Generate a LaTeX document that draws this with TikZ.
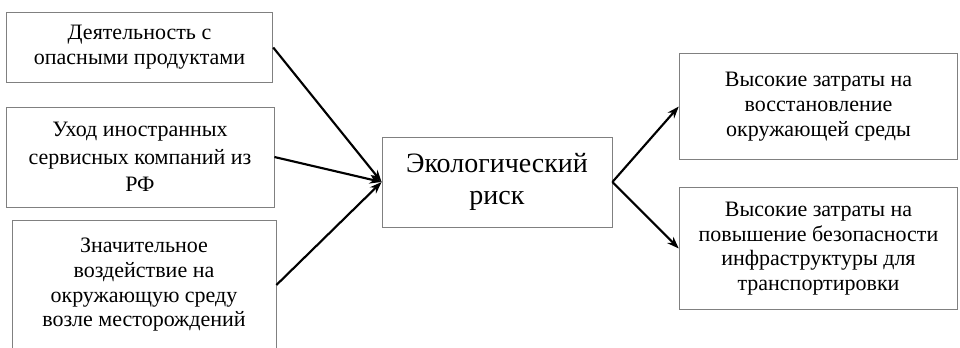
\documentclass[tikz,border=0pt]{standalone}
\usepackage{fontspec}
\setmainfont{Liberation Serif}
\usetikzlibrary{arrows.meta}

\begin{document}
\begin{tikzpicture}
    [>={Stealth[length=9pt,width=6.5pt]},  % one arrow tip for all links
     x=0.75pt, y=-0.75pt,
     box/.style={rectangle, draw=gray, line width=0.6pt, align=center, inner sep=0pt, font=\fontsize{16.5}{18.5}\selectfont},
     link/.style={->, line width=1.6pt},
    ]
\useasboundingbox (0,0) rectangle (960,347);

\node[box, minimum width=200pt, minimum height=53pt] (node_activity) at (139.5,47.5) {Деятельность с\\опасными продуктами};
\node[box, minimum width=201pt, minimum height=75pt, font=\fontsize{16.5}{20.5}\selectfont] (node_leave) at (140,157) {Уход иностранных\\сервисных компаний из\\РФ};
\node[box, minimum width=198pt, minimum height=97.5pt] (node_impact) at (144,285) {Значительное\\воздействие на\\окружающую среду\\возле месторождений};
\node[box, minimum width=172.5pt, minimum height=67.5pt, font=\fontsize{21}{24}\selectfont] (node_risk) at (497,182) {Экологический\\риск};
\node[box, minimum width=209pt, minimum height=80pt] (node_restore) at (818.5,106.5) {Высокие затраты на\\восстановление\\окружающей среды};
\node[box, minimum width=209pt, minimum height=91pt] (node_safety) at (818.5,248.5) {Высокие затраты на\\повышение безопасности\\инфраструктуры для\\транспортировки};

\draw[link] (node_activity.east) -- (node_risk.west);
\draw[link] (node_leave.east) -- (node_risk.west);
\draw[link] (node_impact.east) -- (node_risk.west);
\draw[link] (node_risk.east) -- (node_restore.west);
\draw[link] (node_risk.east) -- (node_safety.west);

\end{tikzpicture}
\end{document}
